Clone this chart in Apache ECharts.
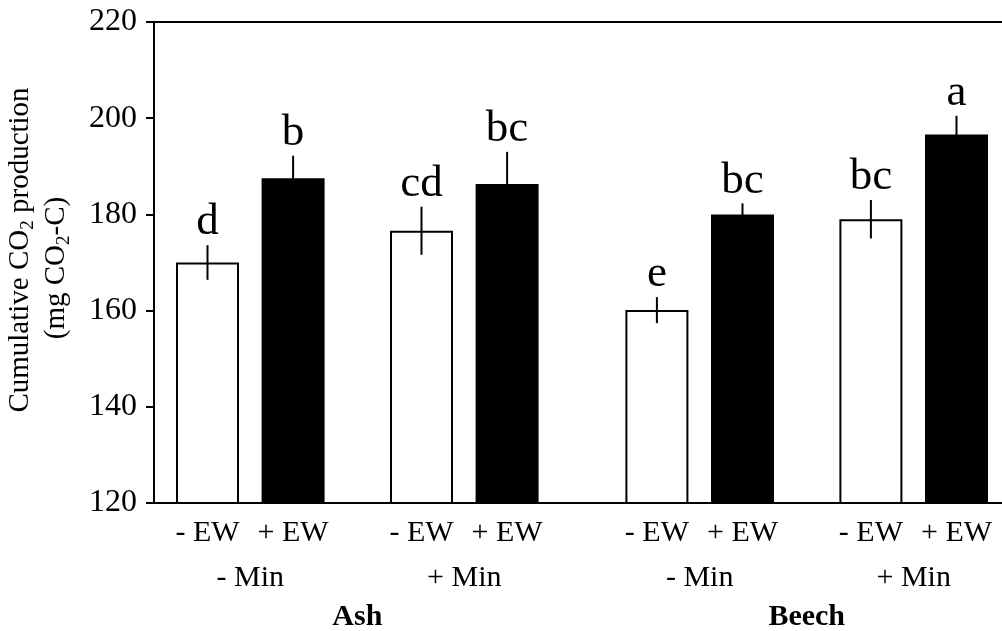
<!DOCTYPE html>
<html>
<head>
<meta charset="utf-8">
<script src="https://cdn.jsdelivr.net/npm/echarts@6/dist/echarts.min.js"></script>
<style>
  html, body { margin: 0; padding: 0; background: #fff; }
  #chart { width: 1002px; height: 631px; }
</style>
</head>
<body>
<div id="chart"></div>
<script>
var ewLabels = ['- EW', '+ EW', '- EW', '+ EW', '- EW', '+ EW', '- EW', '+ EW']
var minLabels = ['- Min', '+ Min', '- Min', '+ Min']
var speciesLabels = ['Ash', 'Beech']
var co2Means = [170.0, 187.5, 176.6, 186.3, 160.1, 180.0, 179.0, 196.6]
var co2Errors = [3.6, 4.7, 5.0, 6.7, 2.7, 2.3, 4.0, 3.9]
var letters = ['d', 'b', 'cd', 'bc', 'e', 'bc', 'bc', 'a']

var serif = 'Liberation Serif, Times New Roman, serif'

// narrow slots on a category axis, bars sit on some of them
var slotCount = 40
var barSlots = []
var s = 2
for (var i = 0; i < co2Means.length; i++) {
  barSlots.push(s)
  if (i % 2 === 0) s += 4
  else if (i === 3) s += 7
  else s += 6
}

function emptyRow() {
  var r = []
  for (var k = 0; k < slotCount; k++) r.push('')
  return r
}
var row1 = emptyRow()
ewLabels.forEach(function(t, i) { row1[barSlots[i]] = t })
var row2 = emptyRow()
minLabels.forEach(function(t, k) { row2[(barSlots[2 * k] + barSlots[2 * k + 1]) / 2] = t })
var row3 = emptyRow()
speciesLabels.forEach(function(t, k) { row3[(barSlots[4 * k] + barSlots[4 * k + 3]) / 2] = t })

var barData = co2Means.map(function(v, i) {
  var white = i % 2 === 0
  return {
    value: [barSlots[i], v],
    itemStyle: white
      ? { color: '#fff', borderColor: '#000', borderWidth: 2 }
      : { color: '#000', borderWidth: 0 }
  }
})
var errData = co2Means.map(function(v, i) {
  return [barSlots[i], v, co2Errors[i], i]
})

function labelAxis(data, offset, bold, show) {
  return {
    type: 'category',
    data: data,
    position: 'bottom',
    offset: offset,
    boundaryGap: true,
    axisLine: { show: show, lineStyle: { color: '#000', width: 2 } },
    axisTick: { show: false },
    splitLine: { show: false },
    axisLabel: {
      interval: 0,
      margin: 15,
      color: '#000',
      fontFamily: serif,
      fontSize: 30,
      fontWeight: bold ? 'bold' : 'normal'
    }
  }
}

var chart = echarts.init(document.getElementById('chart'))
chart.setOption({
  animation: false,
  backgroundColor: '#fff',
  grid: {
    left: 154,
    top: 22,
    right: -8,
    bottom: 128,
    containLabel: false,
    outerBoundsMode: 'none',
    show: true,
    borderColor: '#000',
    borderWidth: 2
  },
  xAxis: [
    labelAxis(row1, 0, false, true),
    labelAxis(row2, 45, false, false),
    labelAxis(row3, 84, true, false)
  ],
  yAxis: {
    type: 'value',
    min: 120,
    max: 220,
    interval: 20,
    axisLine: { show: true, lineStyle: { color: '#000', width: 2 } },
    axisTick: { show: true, inside: false, length: 8, lineStyle: { color: '#000', width: 2 } },
    splitLine: { show: false },
    axisLabel: { color: '#000', fontFamily: serif, fontSize: 32, margin: 17 },
    name: '{p1|}{a|Cumulative CO}{s|2}{a| production}\n{a|(mg CO}{s|2}{a|-C)}{p2|}',
    nameLocation: 'middle',
    nameRotate: 90,
    nameGap: 80,
    nameTextStyle: {
      color: '#000',
      fontFamily: serif,
      fontSize: 29,
      lineHeight: 36,
      rich: {
        a: { fontFamily: serif, fontSize: 29, lineHeight: 36, color: '#000' },
        s: { fontFamily: serif, fontSize: 19, lineHeight: 19, color: '#000', verticalAlign: 'bottom' },
        p1: { width: 25, lineHeight: 36 },
        p2: { width: 11, lineHeight: 36 }
      }
    }
  },
  series: [
    {
      type: 'bar',
      xAxisIndex: 0,
      barWidth: 63,
      clip: true,
      data: barData,
      z: 2
    },
    {
      type: 'custom',
      xAxisIndex: 0,
      data: errData,
      z: 5,
      renderItem: function(params, api) {
        var x = api.value(0)
        var m = api.value(1)
        var e = api.value(2)
        var top = api.coord([x, m + e])
        var bot = api.coord([x, m - e])
        return {
          type: 'group',
          children: [
            {
              type: 'line',
              shape: { x1: top[0], y1: top[1], x2: bot[0], y2: bot[1] },
              style: { stroke: '#000', lineWidth: 2 }
            },
            {
              type: 'text',
              style: {
                text: letters[api.value(3)],
                x: top[0],
                y: top[1],
                align: 'center',
                verticalAlign: 'bottom',
                font: '45px ' + serif,
                fill: '#000'
              }
            }
          ]
        }
      }
    }
  ]
})
</script>
</body>
</html>
